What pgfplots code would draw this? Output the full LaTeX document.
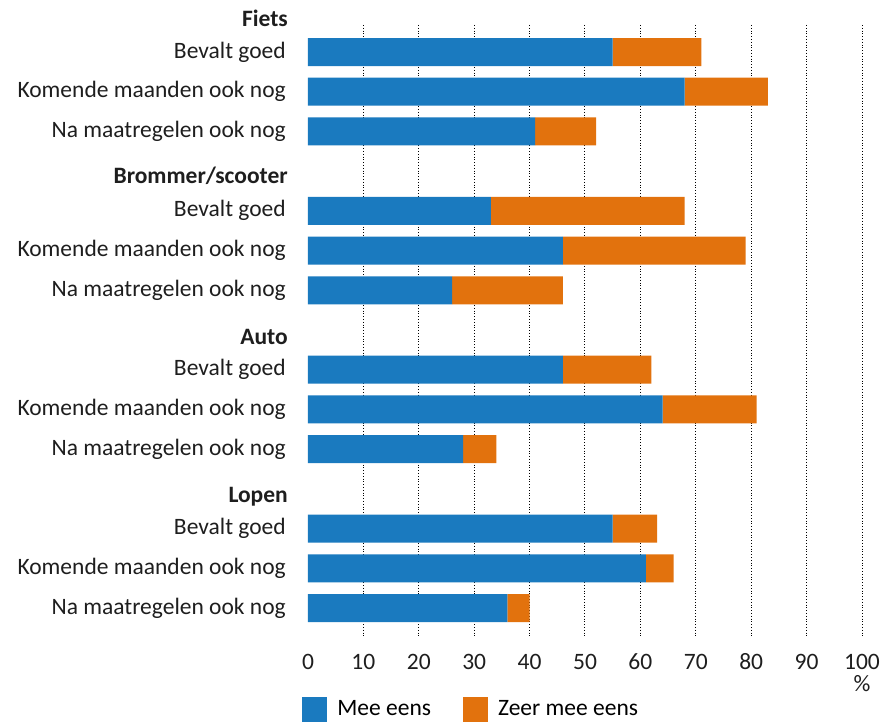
\documentclass[border=0pt]{standalone}
\usepackage{fontspec}
\setmainfont{Carlito}
\usepackage{pgfplots}
\pgfplotsset{compat=1.18}
\definecolor{meeblue}{HTML}{1A7ABF}
\definecolor{zeerorange}{HTML}{E2720D}
\definecolor{txt}{HTML}{1E1E1E}
\newcommand{\lblfont}{\fontsize{11.75}{13.5}\selectfont}
\begin{document}
\lblfont
\begin{tikzpicture}
\begin{axis}[
  xbar stacked, y dir=reverse,
  scale only axis, width=277pt, height=305.4pt,
  xmin=0, xmax=100, ymin=-0.68, ymax=14.7,
  bar width=14pt,
  axis line style={draw=none}, major tick length=0pt,
  xtick={10,20,...,100},
  extra x ticks={0}, extra x tick style={grid=none},
  xmajorgrids, grid style={black, densely dotted, line width=0.5pt},
  ytick={0,1,2,4,5,6,8,9,10,12,13,14},
  yticklabels={Bevalt goed,Komende maanden ook nog,Na maatregelen ook nog,
               Bevalt goed,Komende maanden ook nog,Na maatregelen ook nog,
               Bevalt goed,Komende maanden ook nog,Na maatregelen ook nog,
               Bevalt goed,Komende maanden ook nog,Na maatregelen ook nog},
  yticklabel style={text=txt, xshift=-7pt},
  xticklabel style={text=txt, anchor=center, yshift=-13pt},
  /pgf/number format/assume math mode=true,
  tick label style={font=\lblfont},
  clip=false,
  legend style={draw=none, fill=none, at={(rel axis cs:0,0)}, anchor=west,
    xshift=-6pt, yshift=-37pt, legend columns=2, font=\lblfont,
    /tikz/every odd column/.append style={column sep=3pt},
    /tikz/every even column/.append style={column sep=14pt}},
  legend image code/.code={\fill[#1] (0pt,-6.25pt) rectangle (12.5pt,6.25pt);},
]
\addplot[fill=meeblue, draw=none] coordinates {
 (55,0) (68,1) (41,2)
 (33,4) (46,5) (26,6)
 (46,8) (64,9) (28,10)
 (55,12) (61,13) (36,14)};
\addplot[fill=zeerorange, draw=none] coordinates {
 (16,0) (15,1) (11,2)
 (35,4) (33,5) (20,6)
 (16,8) (17,9) (6,10)
 (8,12) (5,13) (4,14)};
\legend{Mee eens, Zeer mee eens}
\node[anchor=east, text=txt, font=\lblfont\bfseries, xshift=-6pt] at (axis cs:0,-0.85) {Fiets};
\node[anchor=east, text=txt, font=\lblfont\bfseries, xshift=-6pt] at (axis cs:0,3.12) {Brommer/scooter};
\node[anchor=east, text=txt, font=\lblfont\bfseries, xshift=-6pt] at (axis cs:0,7.18) {Auto};
\node[anchor=east, text=txt, font=\lblfont\bfseries, xshift=-6pt] at (axis cs:0,11.2) {Lopen};
\node[anchor=center, text=txt, font=\lblfont] at (rel axis cs:1,0) [yshift=-24pt] {\%};
\end{axis}
\pgfresetboundingbox
\path ([xshift=-154pt,yshift=-43pt]current axis.south west) rectangle ([xshift=10.5pt,yshift=12.5pt]current axis.north east);
\end{tikzpicture}
\end{document}
